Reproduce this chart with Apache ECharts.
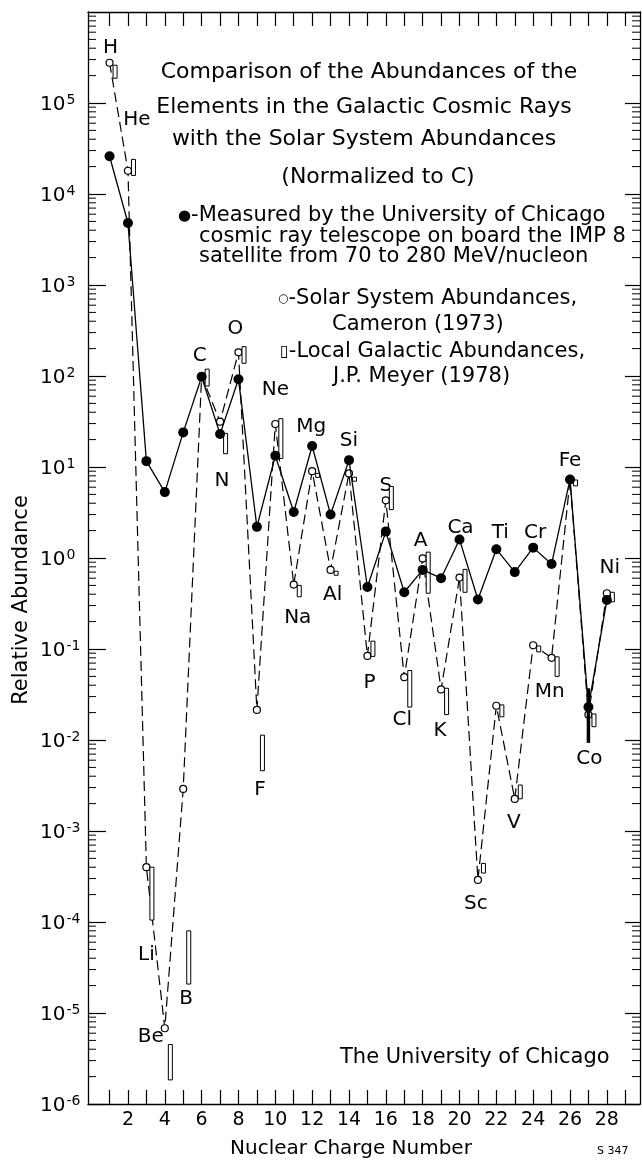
<!DOCTYPE html>
<html><head><meta charset="utf-8">
<script src="https://cdn.jsdelivr.net/npm/echarts@6/dist/echarts.min.js"></script>
<style>html,body{margin:0;padding:0;background:#fff}#c{width:642px;height:1161px}</style>
</head><body><div id="c"></div>
<script>
// ---------------- data ----------------
const charges = [1,2,3,4,5,6,7,8,9,10,11,12,13,14,15,16,17,18,19,20,21,22,23,24,25,26,27,28];
const symbols = ['H','He','Li','Be','B','C','N','O','F','Ne','Na','Mg','Al','Si','P','S','Cl','A','K','Ca','Sc','Ti','V','Cr','Mn','Fe','Co','Ni'];
// University of Chicago IMP 8 measurement (filled circles), Z = 1..28
const measured = [2.6e4, 4.8e3, 11.6, 5.3, 24, 98, 23, 92, 2.2, 13.3, 3.2, 17, 3.0, 11.9, 0.48, 1.95, 0.42, 0.74, 0.60, 1.6, 0.35, 1.25, 0.70, 1.3, 0.86, 7.3, 0.023, 0.345];
// Co measurement error range
const cobaltRange = [0.037, 0.0093];
// Solar system abundances, Cameron (1973) (open circles)
const solar = [2.77e5, 1.8e4, 4.0e-4, 6.8e-6, 2.9e-3, 100, 31.5, 182, 0.0214, 29.7, 0.51, 9.0, 0.74, 8.5, 0.084, 4.3, 0.049, 0.99, 0.036, 0.61, 2.9e-4, 0.0238, 2.25e-3, 0.11, 0.080, 7.2, 0.019, 0.41];
// Local galactic abundances, J.P. Meyer (1978) (bars: upper / lower)
const galacticHigh = [2.6e5, 2.4e4, 4.0e-4, 4.5e-6, 8.0e-5, 119, 23.4, 210, 0.0113, 34, 0.50, 8.4, 0.70, 7.6, 0.122, 6.1, 0.058, 1.16, 0.037, 0.75, 4.4e-4, 0.0243, 3.2e-3, 0.108, 0.082, 7.2, 0.0193, 0.42];
const galacticLow  = [1.87e5, 1.6e4, 1.05e-4, 1.84e-6, 2.08e-5, 77.6, 14, 138, 0.0046, 12.4, 0.375, 7.8, 0.66, 7.1, 0.083, 3.4, 0.023, 0.41, 0.019, 0.42, 3.45e-4, 0.018, 2.26e-3, 0.093, 0.050, 6.2, 0.014, 0.33];
const xTickValues = [1,2,3,4,5,6,7,8,9,10,11,12,13,14,15,16,17,18,19,20,21,22,23,24,25,26,27,28,29];
const xLabelValues = [2,4,6,8,10,12,14,16,18,20,22,24,26,28];

// ---------------- styles ----------------
const FONT = '"DejaVu Sans", sans-serif';
const BAR_SHIFT = 0.3;   // bars drawn just right of the element
// element label placement (pixel offset from the solar-system point)
const labelOffsets = {
  H:[1,-15], He:[9,-51], Li:[0,88], Be:[-14,9], B:[3,210], C:[-2,-20], N:[2,59], O:[-3,-24],
  F:[3,80], Ne:[0,-34], Na:[4,33], Mg:[-1,-44], Al:[2,25], Si:[0,-33], P:[2,27], S:[0,-15],
  Cl:[-2,43], A:[-2,-18], K:[-1,41], Ca:[1,-50], Sc:[-2,24], Ti:[4,-173], V:[-1,24], Cr:[2,-112],
  Mn:[-2,34], Fe:[0,-19], Co:[1,44], Ni:[3,-25]
};

const minorTicks = [];
for (let k = -6; k < 6; k++) for (let m = 2; m <= 9; m++) minorTicks.push(m * Math.pow(10, k));

const X_MIN = -0.17, X_MAX = 29.8;

const chart = echarts.init(document.getElementById('c'), null, {renderer: 'canvas'});

const axisLine = {show: true, onZero: false, lineStyle: {color: '#000', width: 1.3}};

const option = {
  backgroundColor: '#fff',
  animation: false,
  grid: {left: 88, right: 2, top: 12, bottom: 57, containLabel: false},
  xAxis: [{
    type: 'value', min: X_MIN, max: X_MAX, position: 'bottom',
    axisLine: axisLine,
    axisTick: {show: true, inside: true, length: 14, customValues: xTickValues, lineStyle: {color: '#000', width: 1.2}},
    axisLabel: {show: true, customValues: xLabelValues, margin: 7, color: '#000', fontSize: 19, fontFamily: FONT},
    splitLine: {show: false}
  }, {
    type: 'value', min: X_MIN, max: X_MAX, position: 'top',
    axisLine: axisLine,
    axisTick: {show: true, inside: true, length: 14, customValues: xTickValues, lineStyle: {color: '#000', width: 1.2}},
    axisLabel: {show: false},
    splitLine: {show: false}
  }],
  yAxis: [{
    type: 'log', logBase: 10, min: 1e-6, max: 1e6, interval: 1, position: 'left',
    axisLine: axisLine,
    axisTick: {show: true, inside: true, length: 18, lineStyle: {color: '#000', width: 1.2}},
    axisLabel: {
      show: true, align: 'left', margin: 48, showMinLabel: true, showMaxLabel: false,
      formatter: function (v) {
        const e = Math.round(Math.log10(v));
        if (e >= 6) return '';
        return '{b|10}{e|' + e + '}';
      },
      rich: {
        b: {fontSize: 20, fontFamily: FONT, color: '#000', lineHeight: 20, padding: [4, 0, 0, 0]},
        e: {fontSize: 14, fontFamily: FONT, color: '#000', lineHeight: 15, verticalAlign: 'top', padding: [0, 0, 0, 1]}
      }
    },
    splitLine: {show: false}
  }, {
    type: 'log', logBase: 10, min: 1e-6, max: 1e6, interval: 1, position: 'right',
    axisLine: axisLine,
    axisTick: {show: true, inside: true, length: 15, lineStyle: {color: '#000', width: 1.2}},
    axisLabel: {show: false},
    splitLine: {show: false}
  }],
  series: [
    // minor log ticks on both vertical axes
    {
      type: 'custom', xAxisIndex: 0, yAxisIndex: 0, silent: true, z: 1,
      data: minorTicks.map(v => [0, v]),
      renderItem: function (params, api) {
        const v = api.value(1);
        const pl = api.coord([X_MIN, v]);
        const pr = api.coord([X_MAX, v]);
        return {type: 'group', children: [
          {type: 'line', shape: {x1: pl[0], y1: pl[1], x2: pl[0] + 8, y2: pl[1]}, style: {stroke: '#000', lineWidth: 1}},
          {type: 'line', shape: {x1: pr[0], y1: pr[1], x2: pr[0] - 8, y2: pr[1]}, style: {stroke: '#000', lineWidth: 1}}
        ]};
      }
    },
    // Solar system abundances (dashed, open circles) with element labels
    {
      name: 'Solar', type: 'line', xAxisIndex: 0, yAxisIndex: 0, z: 3,
      data: solar.map((v, i) => ({
        value: [charges[i], v],
        label: {show: true, formatter: symbols[i], position: 'inside', offset: labelOffsets[symbols[i]]}
      })),
      symbol: 'circle', symbolSize: 7, showAllSymbol: true,
      itemStyle: {color: '#fff', borderColor: '#000', borderWidth: 1.2},
      lineStyle: {color: '#000', width: 1.2, type: [10, 5]},
      label: {color: '#000', fontSize: 20, fontFamily: FONT},
      emphasis: {disabled: true}
    },
    // Local galactic abundances (open bars)
    {
      name: 'Galactic', type: 'custom', xAxisIndex: 0, yAxisIndex: 0, z: 4,
      data: charges.map((c, i) => [c, galacticHigh[i], galacticLow[i]]),
      renderItem: function (params, api) {
        const x = api.value(0) + BAR_SHIFT;
        const t = api.coord([x, api.value(1)]);
        const b = api.coord([x, api.value(2)]);
        const h = Math.max(b[1] - t[1], 4);
        const yc = (t[1] + b[1]) / 2;
        return {type: 'rect', shape: {x: t[0] - 2, y: yc - h / 2, width: 4, height: h},
          style: {fill: '#fff', stroke: '#000', lineWidth: 1}};
      }
    },
    // Co measurement error bar
    {
      type: 'custom', xAxisIndex: 0, yAxisIndex: 0, z: 5,
      data: [[charges[26], cobaltRange[0], cobaltRange[1]]],
      renderItem: function (params, api) {
        const t = api.coord([api.value(0), api.value(1)]);
        const b = api.coord([api.value(0), api.value(2)]);
        return {type: 'line', shape: {x1: t[0], y1: t[1], x2: b[0], y2: b[1]}, style: {stroke: '#000', lineWidth: 3.5}};
      }
    },
    // Measured (solid line, filled circles)
    {
      name: 'Measured', type: 'line', xAxisIndex: 0, yAxisIndex: 0, z: 6,
      data: measured.map((v, i) => [charges[i], v]),
      symbol: 'circle', symbolSize: 10, showAllSymbol: true,
      itemStyle: {color: '#000'},
      lineStyle: {color: '#000', width: 1.3},
      emphasis: {disabled: true}
    }
  ],
  graphic: [
    {type: 'text', x: 369, y: 72, style: {text: 'Comparison of the Abundances of the', font: '22px ' + FONT, fill: '#000', textAlign: 'center', textVerticalAlign: 'middle'}},
    {type: 'text', x: 364, y: 107, style: {text: 'Elements in the Galactic Cosmic Rays', font: '22px ' + FONT, fill: '#000', textAlign: 'center', textVerticalAlign: 'middle'}},
    {type: 'text', x: 364, y: 139, style: {text: 'with the Solar System Abundances', font: '22px ' + FONT, fill: '#000', textAlign: 'center', textVerticalAlign: 'middle'}},
    {type: 'text', x: 378, y: 177, style: {text: '(Normalized to C)', font: '22px ' + FONT, fill: '#000', textAlign: 'center', textVerticalAlign: 'middle'}},
    {type: 'text', x: 178, y: 216, style: {text: '{d|●}-Measured by the University of Chicago', font: '21px ' + FONT, fill: '#000', textAlign: 'left', textVerticalAlign: 'middle',
      rich: {d: {fontSize: 15, fontFamily: FONT, fill: '#000'}}}},
    {type: 'text', x: 199, y: 237, style: {text: 'cosmic ray telescope on board the IMP 8', font: '21px ' + FONT, fill: '#000', textAlign: 'left', textVerticalAlign: 'middle'}},
    {type: 'text', x: 199, y: 257, style: {text: 'satellite from 70 to 280 MeV/nucleon', font: '21px ' + FONT, fill: '#000', textAlign: 'left', textVerticalAlign: 'middle'}},
    {type: 'text', x: 278, y: 299, style: {text: '{d|○}-Solar System Abundances,', font: '21px ' + FONT, fill: '#000', textAlign: 'left', textVerticalAlign: 'middle',
      rich: {d: {fontSize: 12, fontFamily: FONT, fill: '#000'}}}},
    {type: 'text', x: 332, y: 325, style: {text: 'Cameron (1973)', font: '21px ' + FONT, fill: '#000', textAlign: 'left', textVerticalAlign: 'middle'}},
    {type: 'text', x: 280, y: 352, style: {text: '{d|▯}-Local Galactic Abundances,', font: '21px ' + FONT, fill: '#000', textAlign: 'left', textVerticalAlign: 'middle',
      rich: {d: {fontSize: 16, fontFamily: FONT, fill: '#000'}}}},
    {type: 'text', x: 333, y: 377, style: {text: 'J.P. Meyer (1978)', font: '21px ' + FONT, fill: '#000', textAlign: 'left', textVerticalAlign: 'middle'}},
    {type: 'text', x: 340, y: 1058, style: {text: 'The University of Chicago', font: '21px ' + FONT, fill: '#000', textAlign: 'left', textVerticalAlign: 'middle'}},
    {type: 'text', x: 351, y: 1149, style: {text: 'Nuclear Charge Number', font: '20px ' + FONT, fill: '#000', textAlign: 'center', textVerticalAlign: 'middle'}},
    {type: 'text', x: 597, y: 1151, style: {text: 'S 347', font: '11px ' + FONT, fill: '#000', textAlign: 'left', textVerticalAlign: 'middle'}},
    {type: 'text', x: 22, y: 600, rotation: Math.PI / 2, style: {text: 'Relative Abundance', font: '21px ' + FONT, fill: '#000', textAlign: 'center', textVerticalAlign: 'middle'}}
  ]
};
chart.setOption(option);
</script>
</body></html>
